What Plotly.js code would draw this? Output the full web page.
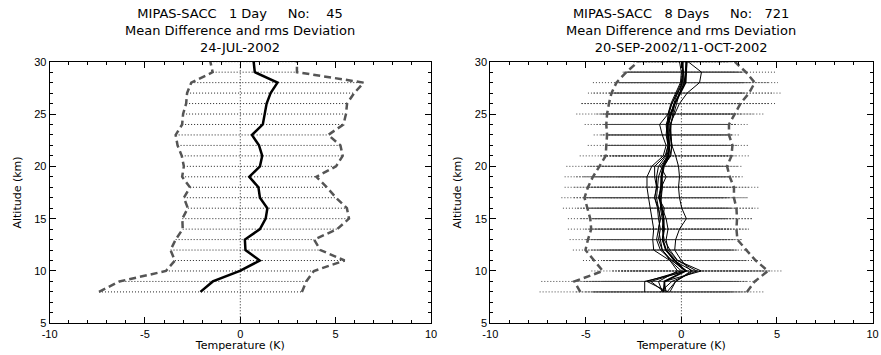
<!DOCTYPE html>
<html>
<head>
<meta charset="utf-8">
<script src="https://cdn.plot.ly/plotly-3.0.1.min.js"></script>
<style>html,body{margin:0;padding:0;background:#fff;}#chart{width:881px;height:355px;}</style>
</head>
<body>
<div id="chart"></div>
<script>
// ---------- DATA ----------
// Altitude levels (km)
const altitudes = [8, 9, 10, 11, 12, 13, 14, 15, 16, 17, 18, 19, 20, 21, 22, 23, 24, 25, 26, 27, 28, 29, 30];

// Left panel: 1 day (24-JUL-2002), mean difference and rms deviation (K)
const meanDay1 = [-2.09, -1.44, -0.02, 1.02, 0.27, 0.24, 1.03, 1.33, 1.42, 1.03, 0.95, 0.47, 1.03, 1.15, 0.98, 0.61, 1.18, 1.27, 1.38, 1.59, 1.95, 0.76, 0.70];
const rmsDay1  = [5.32, 4.90, 3.88, 4.45, 3.93, 3.63, 4.05, 4.37, 4.17, 3.99, 3.59, 3.52, 3.99, 4.22, 4.27, 4.00, 4.23, 4.27, 4.22, 4.38, 4.52, 2.21, 2.27];

// Right panel: 8 days (20-SEP-2002/11-OCT-2002), daily means (K)
const dayMeans = [
  [-1.92, -1.92, 0.30, -0.50, -1.10, -1.30, -1.20, -1.10, -1.20, -1.40, -1.30, -1.40, -1.40, -0.85, -0.70, -0.75, -0.80, -0.60, -0.35, -0.05, 0.00, 0.05, 0.10],
  [-0.60, -0.30, 0.50, 0.00, -0.35, -0.30, -0.10, 0.26, 0.02, -0.10, -0.15, -0.10, -0.15, -0.30, -0.50, -0.60, -0.55, -0.40, -0.25, -0.10, 0.15, 0.20, 0.25],
  [-0.80, -0.90, 1.04, -0.20, -0.70, -0.80, -0.70, -0.80, -1.00, -1.10, -1.00, -1.00, -0.90, -0.60, -0.50, -0.55, -0.60, -0.35, -0.10, 0.30, 0.95, 1.05, 0.35],
  [-0.70, -1.80, 0.00, -0.60, -1.45, -1.50, -1.45, -1.55, -1.65, -1.72, -1.80, -1.80, -1.55, -0.95, -0.80, -1.00, -1.14, -0.70, -0.50, -0.20, 0.05, 0.10, 0.05],
  [-1.10, -0.50, 0.80, -0.20, -0.60, -0.90, -1.00, -0.95, -0.90, -1.20, -1.05, -0.80, -1.10, -0.70, -0.60, -0.60, -0.65, -0.55, -0.40, -0.20, 0.10, 0.10, 0.05],
  [-0.90, -1.60, 0.20, -0.50, -1.00, -1.10, -1.20, -1.10, -1.20, -1.30, -1.25, -1.20, -1.00, -0.75, -0.65, -0.70, -0.70, -0.65, -0.50, -0.25, 0.00, 0.10, 0.00],
  [-0.75, -0.30, 0.60, -0.40, -0.80, -1.00, -0.90, -1.00, -1.10, -1.05, -1.00, -1.05, -0.95, -0.55, -0.50, -0.55, -0.55, -0.45, -0.35, -0.10, 0.15, 0.25, 0.30],
  [-1.00, -1.20, -0.20, -0.60, -1.00, -1.20, -1.10, -1.20, -1.25, -1.40, -1.30, -1.30, -1.20, -0.80, -0.70, -0.80, -0.75, -0.70, -0.55, -0.30, -0.05, 0.00, -0.10]
];
// daily rms deviations (K)
const dayRms = [
  [5.50, 5.41, 5.01, 4.65, 4.58, 4.55, 4.74, 4.84, 5.00, 4.88, 4.81, 4.71, 4.62, 4.47, 4.20, 3.84, 4.26, 4.90, 4.89, 4.84, 4.63, 3.12, 2.60],
  [4.90, 4.30, 3.80, 3.40, 3.30, 3.40, 3.60, 3.40, 4.05, 3.60, 4.20, 3.20, 3.10, 3.20, 3.30, 3.20, 3.40, 3.60, 3.70, 3.60, 3.40, 3.00, 2.50],
  [4.20, 3.80, 3.60, 3.60, 3.50, 3.60, 3.80, 3.70, 3.90, 3.80, 3.90, 3.60, 3.40, 3.30, 3.40, 3.30, 3.40, 4.10, 5.10, 4.90, 4.10, 3.90, 2.60],
  [3.80, 3.90, 3.60, 3.50, 3.40, 3.50, 3.60, 3.70, 3.80, 3.90, 3.80, 3.70, 3.50, 3.30, 3.20, 3.10, 3.30, 3.40, 3.50, 3.40, 3.30, 3.00, 2.40],
  [3.50, 3.60, 3.90, 3.70, 3.60, 3.40, 3.50, 3.60, 3.50, 3.60, 3.50, 3.40, 3.30, 3.20, 3.10, 3.20, 3.00, 3.30, 3.40, 3.50, 3.20, 2.90, 2.40],
  [3.70, 3.50, 3.50, 3.60, 3.70, 3.80, 3.60, 3.50, 3.70, 3.80, 3.60, 3.50, 3.40, 3.30, 3.30, 3.20, 3.20, 3.30, 3.30, 3.40, 3.30, 3.10, 2.50],
  [3.40, 3.70, 3.70, 3.80, 3.50, 3.60, 3.40, 3.70, 3.60, 3.50, 3.70, 3.60, 3.20, 3.10, 3.20, 3.30, 3.10, 3.20, 3.50, 3.30, 3.50, 3.00, 2.30],
  [3.60, 3.80, 3.40, 3.50, 3.60, 3.50, 3.70, 3.60, 3.90, 3.70, 3.60, 3.80, 3.60, 3.40, 3.10, 3.40, 3.30, 3.50, 3.60, 3.50, 3.20, 2.80, 2.40]
];
// 8-day overall mean and rms (K)
const meanAll = [-0.93, -0.88, 0.21, -0.33, -0.81, -0.98, -0.92, -0.93, -1.03, -1.16, -1.07, -1.05, -0.95, -0.67, -0.63, -0.70, -0.72, -0.55, -0.35, -0.06, 0.22, 0.25, 0.26];
const rmsAll  = [4.36, 4.72, 4.32, 4.22, 4.21, 3.91, 3.80, 3.84, 3.91, 3.91, 3.82, 3.58, 3.34, 3.29, 3.30, 3.19, 3.21, 3.34, 3.44, 3.60, 3.62, 3.13, 2.53];

// Ticks
const xTickVals = [-10, -5, 0, 5, 10];
const xTickText = ['-10', '-5', '0', '5', '10'];
const yTickVals = [5, 10, 15, 20, 25, 30];
const yTickText = ['5', '10', '15', '20', '25', '30'];

// Text
const titleLeft  = ['MIPAS-SACC\u00A0\u00A0\u00A01 Day\u00A0\u00A0\u00A0\u00A0\u00A0No:\u00A0\u00A0\u00A0\u00A045', 'Mean Difference and rms Deviation', '24-JUL-2002'];
const titleRight = ['MIPAS-SACC\u00A0\u00A0\u00A08 Days\u00A0\u00A0\u00A0\u00A0\u00A0No:\u00A0\u00A0\u00A0721', 'Mean Difference and rms Deviation', '20-SEP-2002/11-OCT-2002'];
const xTitle = 'Temperature (K)';
const yTitle = 'Altitude (km)';

// ---------- BUILD ----------
const FONT = 'Liberation Sans, Arial, Helvetica, sans-serif';
const TFONT = 'DejaVu Sans, Verdana, sans-serif';

function barSegments(alt, mean, rms) {
  const xs = [], ys = [];
  for (let i = 0; i < alt.length; i++) {
    xs.push(mean[i] - rms[i], mean[i] + rms[i], null);
    ys.push(alt[i], alt[i], null);
  }
  return {xs, ys};
}
function plus(a, b) { return a.map((v, i) => v + b[i]); }
function minus(a, b) { return a.map((v, i) => v - b[i]); }

const traces = [];
// Left panel
const b1 = barSegments(altitudes, meanDay1, rmsDay1);
traces.push({x: b1.xs, y: b1.ys, xaxis: 'x', yaxis: 'y', mode: 'lines', connectgaps: false,
  line: {color: '#222', width: 1, dash: '1px,2px'}, hoverinfo: 'skip'});
traces.push({x: minus(meanDay1, rmsDay1), y: altitudes, xaxis: 'x', yaxis: 'y', mode: 'lines',
  line: {color: '#555', width: 2.5, dash: '7px,4px'}});
traces.push({x: plus(meanDay1, rmsDay1), y: altitudes, xaxis: 'x', yaxis: 'y', mode: 'lines',
  line: {color: '#555', width: 2.5, dash: '7px,4px'}});
traces.push({x: meanDay1, y: altitudes, xaxis: 'x', yaxis: 'y', mode: 'lines',
  line: {color: '#000', width: 2.5}});

// Right panel
for (let d = 0; d < dayMeans.length; d++) {
  const b = barSegments(altitudes, dayMeans[d], dayRms[d]);
  traces.push({x: b.xs, y: b.ys, xaxis: 'x2', yaxis: 'y2', mode: 'lines', connectgaps: false,
    line: {color: '#444', width: 1, dash: '1px,2px'}, hoverinfo: 'skip'});
}
traces.push({x: minus(meanAll, rmsAll), y: altitudes, xaxis: 'x2', yaxis: 'y2', mode: 'lines',
  line: {color: '#555', width: 2.5, dash: '7px,4px'}});
traces.push({x: plus(meanAll, rmsAll), y: altitudes, xaxis: 'x2', yaxis: 'y2', mode: 'lines',
  line: {color: '#555', width: 2.5, dash: '7px,4px'}});
for (let d = 0; d < dayMeans.length; d++) {
  traces.push({x: dayMeans[d], y: altitudes, xaxis: 'x2', yaxis: 'y2', mode: 'lines',
    line: {color: '#000', width: 1}});
}
traces.push({x: meanAll, y: altitudes, xaxis: 'x2', yaxis: 'y2', mode: 'lines',
  line: {color: '#000', width: 1.8}});

const W = 881, H = 355;
const yDom = [1 - 323.3 / H, 1 - 61.7 / H];
function xa(domain) {
  return {domain: domain, range: [-10, 10], tickmode: 'array', tickvals: xTickVals, ticktext: xTickText,
    ticks: 'inside', ticklen: 6, tickwidth: 1,
    tickcolor: '#000', showline: true, linecolor: '#000', linewidth: 1, mirror: 'ticks',
    showgrid: false, zeroline: false, fixedrange: true,
    minor: {tickmode: 'linear', tick0: 0, dtick: 1, ticks: 'inside', ticklen: 3, tickcolor: '#000', showgrid: false},
    tickfont: {family: FONT, size: 11, color: '#000'},
    title: {text: xTitle, font: {family: TFONT, size: 11, color: '#000'}, standoff: 1}};
}
function ya(anchor) {
  return {domain: yDom, anchor: anchor, range: [5, 30], tickmode: 'array', tickvals: yTickVals, ticktext: yTickText,
    ticks: 'inside', ticklen: 6, tickwidth: 1,
    tickcolor: '#000', showline: true, linecolor: '#000', linewidth: 1, mirror: 'ticks',
    showgrid: false, zeroline: false, fixedrange: true,
    minor: {tickmode: 'linear', tick0: 0, dtick: 1, ticks: 'inside', ticklen: 3, tickcolor: '#000', showgrid: false},
    tickfont: {family: FONT, size: 11, color: '#000'},
    title: {text: yTitle, font: {family: TFONT, size: 11, color: '#000'}, standoff: 10}};
}
const xDom1 = [49.6 / W, 431 / W];
const xDom2 = [490.3 / W, 872.5 / W];

function titleAnnotation(lines, xDom) {
  return {text: lines.join('<br>'), xref: 'paper', yref: 'paper', x: (xDom[0] + xDom[1]) / 2, y: 1 - 31 / H,
    xanchor: 'center', yanchor: 'middle', align: 'center', showarrow: false, borderpad: 0,
    font: {family: TFONT, size: 13, color: '#000'}};
}

const layout = {
  width: W, height: H, margin: {l: 0, r: 0, t: 0, b: 0},
  paper_bgcolor: '#fff', plot_bgcolor: '#fff', showlegend: false,
  xaxis: Object.assign(xa(xDom1), {anchor: 'y'}),
  yaxis: ya('x'),
  xaxis2: Object.assign(xa(xDom2), {anchor: 'y2'}),
  yaxis2: ya('x2'),
  shapes: [
    {type: 'line', xref: 'x', yref: 'y domain', x0: 0, x1: 0, y0: 0, y1: 1, line: {color: '#222', width: 1, dash: '1px,2px'}, layer: 'below'},
    {type: 'line', xref: 'x2', yref: 'y2 domain', x0: 0, x1: 0, y0: 0, y1: 1, line: {color: '#222', width: 1, dash: '1px,2px'}, layer: 'below'}
  ],
  annotations: [titleAnnotation(titleLeft, xDom1), titleAnnotation(titleRight, xDom2)]
};

Plotly.newPlot('chart', traces, layout, {staticPlot: true, displayModeBar: false});
</script>
</body>
</html>
